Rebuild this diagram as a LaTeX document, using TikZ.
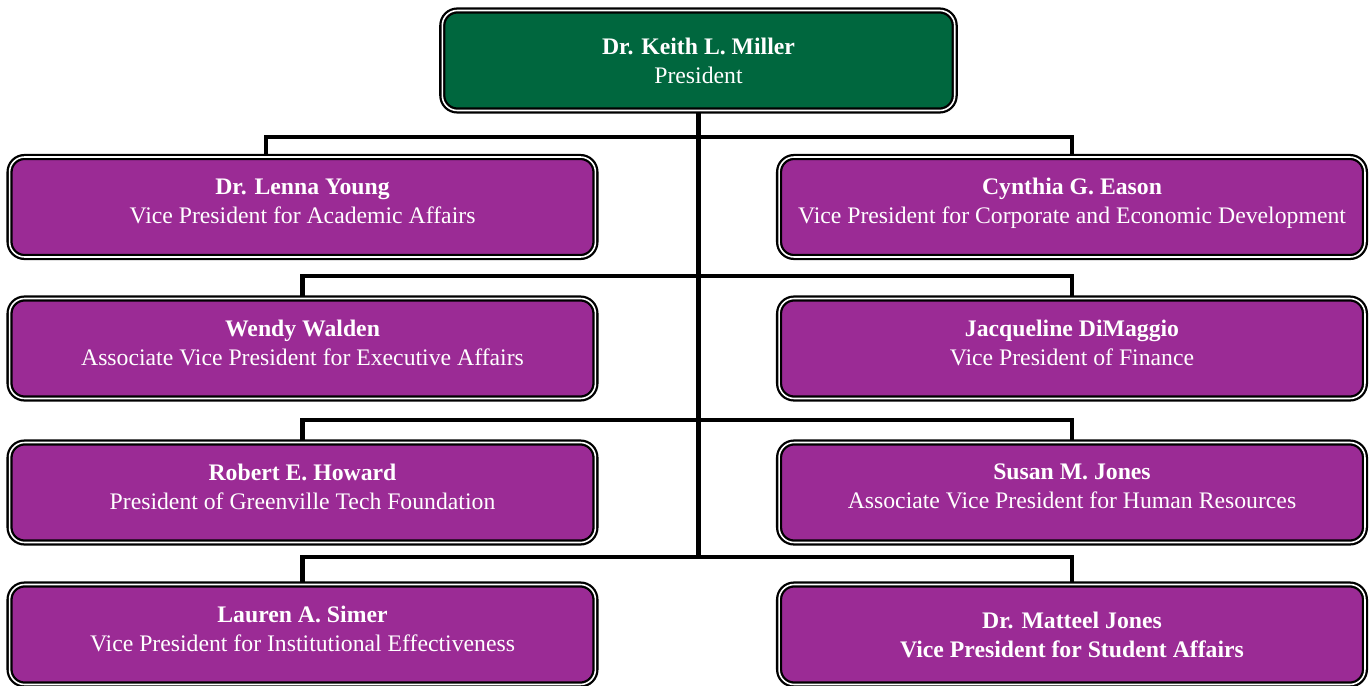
\documentclass[tikz,border=0pt]{standalone}
\usepackage{fontspec}
\setmainfont{Liberation Serif}
\usepackage{tikz}
\usetikzlibrary{positioning}
\definecolor{gtgreen}{RGB}{0,103,62}
\definecolor{gtpurple}{RGB}{155,43,149}
\tikzset{officer box/.style={draw=black, double=white, double distance=0.9pt, line width=1.3pt, rounded corners=0.3cm, text=white, align=center, font=\fontsize{13.5}{16.5}\selectfont, minimum height=2.0cm, inner sep=2pt}}
\tikzset{vp box/.style={officer box, fill=gtpurple, minimum width=11.72cm, text depth=7pt}}
\tikzset{president box/.style={officer box, fill=gtgreen, minimum width=10.25cm, text depth=0pt}}
\tikzset{report line/.style={draw=black, line width=2.6pt}}
\begin{document}
\begin{tikzpicture}[x=0.02cm, y=-0.02cm]
\useasboundingbox (0,0) rectangle (1369,686);
\node[president box] (pres) at (698.5,60.5) {\textbf{Dr. Keith L. Miller}\\ President};
\node[vp box] (acad) at (302.5,207) {\textbf{Dr. Lenna Young}\\ Vice President for Academic Affairs};
\node[vp box] (corp) at (1072,207) {\textbf{Cynthia G. Eason}\\ Vice President for Corporate and Economic Development};
\node[vp box] (exec) at (302.5,348.5) {\textbf{Wendy Walden}\\ Associate Vice President for Executive Affairs};
\node[vp box] (fin) at (1072,348.5) {\textbf{Jacqueline DiMaggio}\\ Vice President of Finance};
\node[vp box] (found) at (302.5,492.5) {\textbf{Robert E. Howard}\\ President of Greenville Tech Foundation};
\node[vp box] (hr) at (1072,492.5) {\textbf{Susan M. Jones}\\ Associate Vice President for Human Resources};
\node[vp box] (eff) at (302.5,634.5) {\textbf{Lauren A. Simer}\\ Vice President for Institutional Effectiveness};
\node[vp box, text depth=0pt] (stud) at (1072,634.5) {\textbf{Dr. Matteel Jones}\\ \textbf{Vice President for Student Affairs}};
\coordinate (rowa) at (698.5,137);
\coordinate (rowb) at (698.5,276);
\coordinate (rowc) at (698.5,420);
\coordinate (rowd) at (698.5,557);
% trunk
\draw[report line] (pres.south) -- (rowd);
% branches
\draw[report line] ([xshift=-0.73cm]acad.north) |- (rowa) -| (corp.north);
\draw[report line] (exec.north) |- (rowb) -| (fin.north);
\draw[report line] (found.north) |- (rowc) -| (hr.north);
\draw[report line] (eff.north) |- (rowd) -| (stud.north);
\end{tikzpicture}
\end{document}
